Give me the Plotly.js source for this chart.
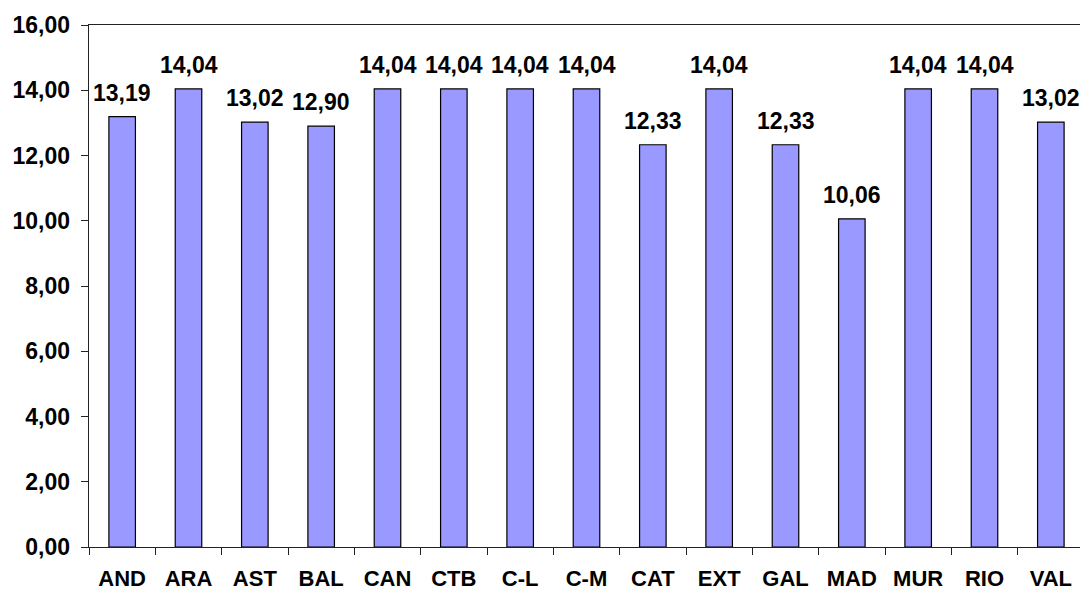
<!DOCTYPE html>
<html>
<head>
<meta charset="utf-8">
<script src="https://cdn.plot.ly/plotly-3.0.1.min.js"></script>
<style>
html, body { margin:0; padding:0; overflow:hidden; background:#fff; }
#chart { width:1084px; height:592px; }
</style>
</head>
<body>
<div id="chart"></div>
<script>
const categories = ['AND','ARA','AST','BAL','CAN','CTB','C-L','C-M','CAT','EXT','GAL','MAD','MUR','RIO','VAL'];
const values = [13.19,14.04,13.02,12.90,14.04,14.04,14.04,14.04,12.33,14.04,12.33,10.06,14.04,14.04,13.02];
const yTicks = [0,2,4,6,8,10,12,14,16];

const fmt = v => v.toFixed(2).replace('.', ',');
const FONT = 'Liberation Sans, Arial, sans-serif';

const trace = {
  type: 'bar',
  x: categories,
  y: values,
  marker: { color: '#9999FF', line: { color: '#000000', width: 1.2 } },
  hoverinfo: 'none'
};

const annotations = categories.map((c, i) => ({
  x: c, y: values[i], xref: 'x', yref: 'y',
  text: '<b>' + fmt(values[i]) + '</b>',
  showarrow: false, yanchor: 'bottom', yshift: 9,
  font: { family: FONT, size: 23, color: '#000' }
}));

const layout = {
  width: 1084, height: 592,
  margin: { l: 89, r: 0, t: 25, b: 45, pad: 0 },
  paper_bgcolor: '#fff', plot_bgcolor: '#fff',
  bargap: 0.6,
  showlegend: false,
  separators: ',.',
  font: { family: FONT, color: '#000' },
  xaxis: {
    type: 'category',
    showline: true, linecolor: '#222', linewidth: 1.3,
    mirror: true,
    ticks: 'outside', tickson: 'boundaries', ticklen: 7, tickcolor: '#222', tickwidth: 1,
    tickfont: { family: FONT, size: 22, color: '#000', weight: 'bold' },
    ticklabelstandoff: 11,
    showgrid: false, zeroline: false, fixedrange: true
  },
  yaxis: {
    range: [0, 16],
    tickvals: yTicks,
    tickformat: '.2f',
    showline: true, linecolor: '#222', linewidth: 1.3,
    ticks: 'outside', ticklen: 7, tickcolor: '#222', tickwidth: 1,
    tickfont: { family: FONT, size: 23, color: '#000', weight: 'bold' },
    ticklabelstandoff: 6,
    showgrid: false, zeroline: false, fixedrange: true
  },
  annotations: annotations
};

Plotly.newPlot('chart', [trace], layout, { displayModeBar: false, staticPlot: true });
</script>
</body>
</html>
